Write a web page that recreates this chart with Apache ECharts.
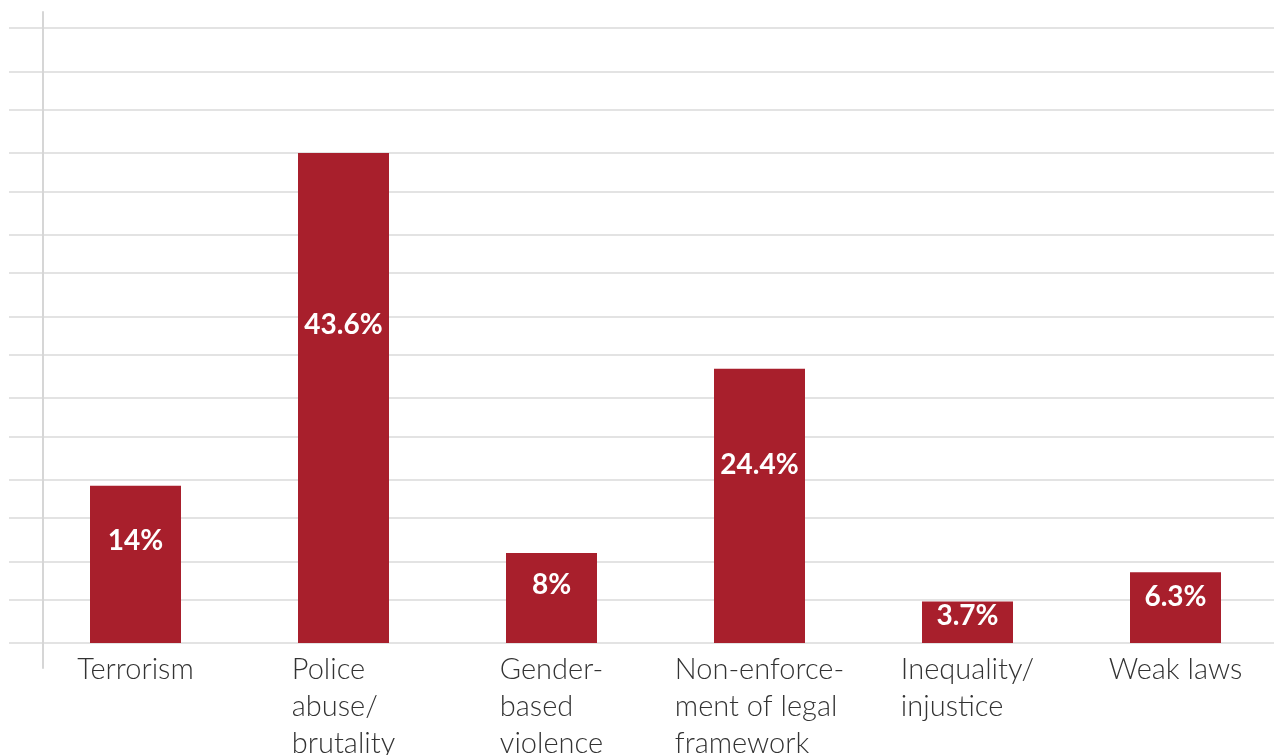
<!DOCTYPE html>
<html>
<head>
<meta charset="utf-8">
<script src="https://cdn.jsdelivr.net/npm/echarts@6/dist/echarts.min.js"></script>
<style>
  html, body { margin: 0; padding: 0; background: #fff; }
  #chart { width: 1274px; height: 755px; }
</style>
</head>
<body>
<div id="chart"></div>
<script>
const categories = [
  "Terrorism",
  "Police\nabuse/\nbrutality",
  "Gender-\nbased\nviolence",
  "Non-enforce-\nment of legal\nframework",
  "Inequality/\ninjustice",
  "Weak laws"
];
const shares = [14, 43.6, 8, 24.4, 3.7, 6.3];

// gridlines: two interleaved sets, one counted up from the baseline and
// one counted down from the top; the tallest bar sits on the 6th line
const stepsShown = 7.531;
const pctPerStep = Math.max(...shares) / 6;

const barColor = "#a81f2c";
const lineColor = "#e3e3e3";

const chart = echarts.init(document.getElementById("chart"));
chart.setOption({
  animation: false,
  backgroundColor: "#fff",
  grid: [
    { left: 31.5, top: 28, width: 1248, height: 615, outerBoundsMode: "none" },
    { left: 9, right: 0, top: 28, height: 615, outerBoundsMode: "none" },
    { left: 43, top: 12, width: 1, bottom: 87, outerBoundsMode: "none" }
  ],
  xAxis: [
    {
      type: "category",
      data: categories,
      gridIndex: 0,
      axisLine: { show: false },
      axisTick: { show: false },
      axisLabel: {
        margin: 8,
        formatter: (value) => value.split("\n").map((l) => `{t|${l}}`).join("\n"),
        rich: {
          t: {
            align: "left",
            fontFamily: "Lato",
            fontWeight: 300,
            fontSize: 29,
            lineHeight: 37,
            color: "#333"
          }
        }
      }
    },
    { type: "value", gridIndex: 1, show: false },
    { type: "value", gridIndex: 2, show: false }
  ],
  yAxis: [
    {
      type: "value",
      gridIndex: 0,
      min: 0,
      max: stepsShown * pctPerStep,
      show: false
    },
    {
      type: "value",
      gridIndex: 1,
      min: 0,
      max: stepsShown,
      interval: 1,
      axisLine: { show: false },
      axisTick: { show: false },
      axisLabel: { show: false },
      splitLine: { lineStyle: { color: lineColor, width: 2 } }
    },
    {
      type: "value",
      gridIndex: 1,
      inverse: true,
      min: 0,
      max: stepsShown,
      interval: 1,
      axisLine: { show: false },
      axisTick: { show: false },
      axisLabel: { show: false },
      splitLine: { lineStyle: { color: lineColor, width: 2 } }
    },
    {
      type: "value",
      gridIndex: 2,
      axisLine: { show: true, lineStyle: { color: "#d6d6d6", width: 2 } },
      axisTick: { show: false },
      axisLabel: { show: false },
      splitLine: { show: false }
    }
  ],
  series: [
    {
      type: "bar",
      xAxisIndex: 0,
      yAxisIndex: 0,
      data: shares,
      barWidth: 91,
      itemStyle: { color: barColor },
      label: {
        show: true,
        position: ["50%", "35%"],
        align: "center",
        verticalAlign: "middle",
        formatter: (p) => p.value + "%",
        fontFamily: "Lato",
        fontWeight: "bold",
        fontSize: 28,
        color: "#fff"
      }
    }
  ]
});
window.addEventListener("resize", () => chart.resize());
</script>
</body>
</html>
